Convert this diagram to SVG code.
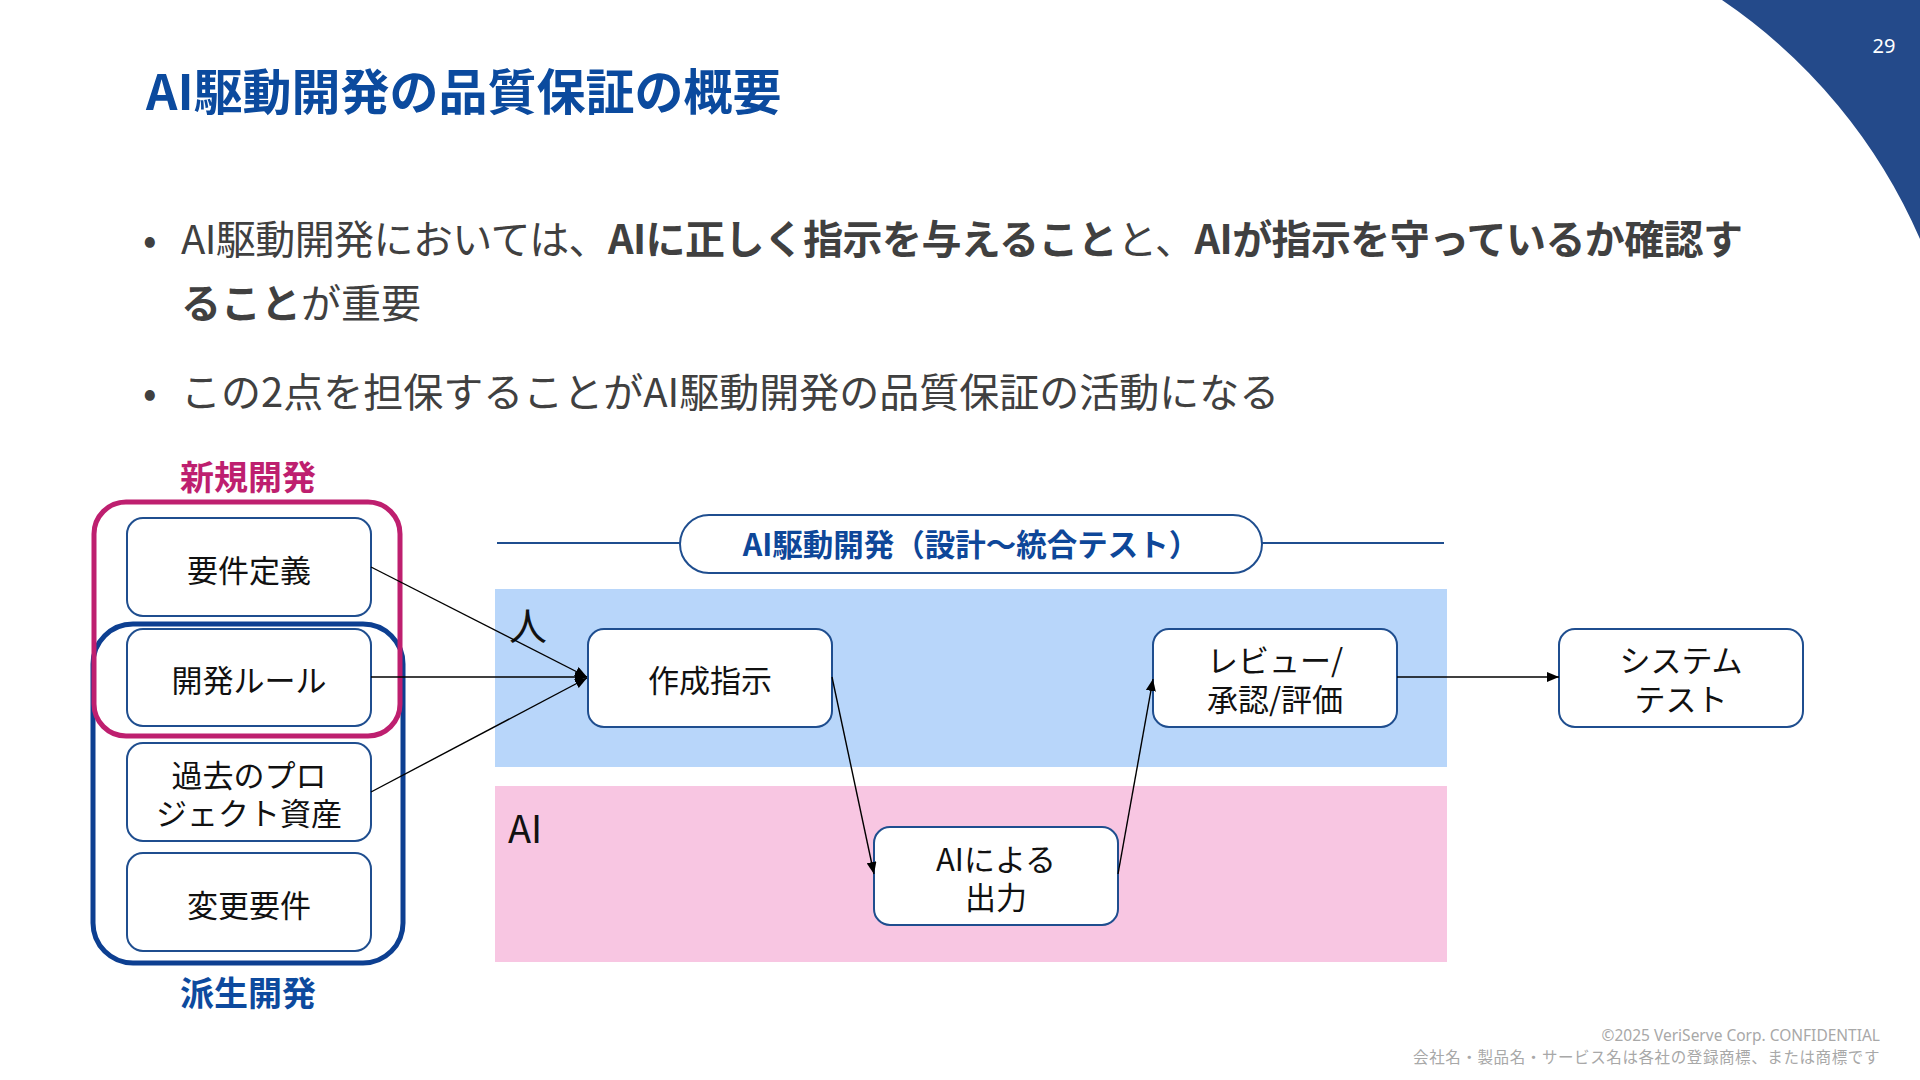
<svg xmlns="http://www.w3.org/2000/svg" width="1920" height="1080" viewBox="0 0 1920 1080">
<defs>
<style>
.jp{font-family:"Noto Sans CJK JP","Noto Sans",sans-serif;}
.title{font-size:49px;font-weight:700;fill:#0B4A9E;}
.body{font-size:40px;fill:#404040;}
.b{font-weight:700;}
.box{fill:#FFFFFF;stroke:#1F4E8F;stroke-width:2;}
.btxt{font-size:31px;fill:#111111;text-anchor:middle;}
.lane{font-size:38px;fill:#111111;}
.conn{stroke:#000000;stroke-width:1.4;fill:none;}
.foot{font-size:15.5px;fill:#A8A8A8;text-anchor:end;}
</style>
<marker id="arr" viewBox="0 0 12 10" refX="12" refY="5" markerWidth="12" markerHeight="10" markerUnits="userSpaceOnUse" orient="auto">
<path d="M0,0 L12,5 L0,10 Z" fill="#000000"/>
</marker>
</defs>
<rect x="0" y="0" width="1920" height="1080" fill="#FFFFFF"/>

<g id="corner">
<path d="M1722,0 A556,556 0 0 1 1920,239 L1920,0 Z" fill="#244A8A"/>
<text x="1884" y="53" text-anchor="middle" font-family="Noto Sans, sans-serif" font-size="20" fill="#FFFFFF">29</text>
</g>

<g id="title">
<text x="146" y="110" class="jp title">AI駆動開発の品質保証の概要</text>
</g>

<g id="bullets" class="jp body">
<text x="143" y="254">•</text>
<text x="181" y="254" textLength="1562" lengthAdjust="spacing">AI駆動開発においては、<tspan class="b">AIに正しく指示を与えること</tspan>と、<tspan class="b">AIが指示を守っているか確認す</tspan></text>
<text x="181" y="318"><tspan class="b">ること</tspan>が重要</text>
<text x="143" y="407">•</text>
<text x="181" y="407">この2点を担保することがAI駆動開発の品質保証の活動になる</text>
</g>

<g id="lanes">
<rect x="495" y="589" width="952" height="178" fill="#B8D6FA"/>
<rect x="495" y="786" width="952" height="176" fill="#F8C6E2"/>
<text x="509" y="640" class="jp lane">人</text>
<text x="508" y="843" class="jp lane">AI</text>
</g>

<g id="header">
<line x1="497" y1="543" x2="680" y2="543" stroke="#1F4E8F" stroke-width="2"/>
<line x1="1262" y1="543" x2="1444" y2="543" stroke="#1F4E8F" stroke-width="2"/>
<rect x="680" y="515" width="582" height="58" rx="29" ry="29" fill="#FFFFFF" stroke="#1F4E8F" stroke-width="2"/>
<text x="971" y="556" text-anchor="middle" class="jp" font-size="30.5" font-weight="700" fill="#0E4799">AI駆動開発（設計～統合テスト）</text>
</g>

<g id="group-new">
<text x="248" y="490" text-anchor="middle" class="jp" font-size="34" font-weight="700" fill="#BE1F6F">新規開発</text>
</g>
<g id="group-derived">
<rect x="93" y="624" width="310" height="339" rx="40" ry="40" fill="none" stroke="#0D3F91" stroke-width="5"/>
<text x="248" y="1006" text-anchor="middle" class="jp" font-size="34" font-weight="700" fill="#0D4A9E">派生開発</text>
</g>

<g id="node-req">
<rect x="127" y="518" width="244" height="98" rx="16" class="box"/>
<text x="249" y="582" class="jp btxt">要件定義</text>
</g>
<g id="node-rule">
<rect x="127" y="629" width="244" height="97" rx="16" class="box"/>
<text x="249" y="692" class="jp btxt">開発ルール</text>
</g>
<g id="node-past">
<rect x="127" y="743" width="244" height="98" rx="16" class="box"/>
<text x="249" y="787" class="jp btxt">過去のプロ</text>
<text x="249" y="825" class="jp btxt">ジェクト資産</text>
</g>
<g id="node-change">
<rect x="127" y="853" width="244" height="98" rx="16" class="box"/>
<text x="249" y="917" class="jp btxt">変更要件</text>
</g>
<g id="group-new-frame">
<rect x="94" y="502" width="306" height="234" rx="32" ry="32" fill="none" stroke="#BE1F6F" stroke-width="5"/>
</g>

<g id="node-instruct">
<rect x="588" y="629" width="244" height="98" rx="16" class="box"/>
<text x="710" y="692" class="jp btxt">作成指示</text>
</g>
<g id="node-output">
<rect x="874" y="827" width="244" height="98" rx="16" class="box"/>
<text x="996" y="871" class="jp btxt">AIによる</text>
<text x="996" y="909" class="jp btxt">出力</text>
</g>
<g id="node-review">
<rect x="1153" y="629" width="244" height="98" rx="16" class="box"/>
<text x="1275" y="672" class="jp btxt">レビュー/</text>
<text x="1275" y="711" class="jp btxt">承認/評価</text>
</g>
<g id="node-systest">
<rect x="1559" y="629" width="244" height="98" rx="16" class="box"/>
<text x="1681" y="672" class="jp btxt">システム</text>
<text x="1681" y="711" class="jp btxt">テスト</text>
</g>

<g id="connectors">
<line x1="371" y1="567" x2="587" y2="677" class="conn" marker-end="url(#arr)"/>
<line x1="371" y1="677" x2="587" y2="677" class="conn" marker-end="url(#arr)"/>
<line x1="371" y1="792" x2="587" y2="678" class="conn" marker-end="url(#arr)"/>
<line x1="832" y1="677" x2="874" y2="874" class="conn" marker-end="url(#arr)"/>
<line x1="1118" y1="874" x2="1153" y2="679" class="conn" marker-end="url(#arr)"/>
<line x1="1397" y1="677" x2="1559" y2="677" class="conn" marker-end="url(#arr)"/>
</g>

<g id="footer" class="jp">
<text x="1880" y="1041" class="foot" font-family="Noto Sans, sans-serif" font-size="16">©2025 VeriServe Corp. CONFIDENTIAL</text>
<text x="1880" y="1063" class="foot" letter-spacing="0.6">会社名・製品名・サービス名は各社の登録商標、または商標です</text>
</g>
</svg>
